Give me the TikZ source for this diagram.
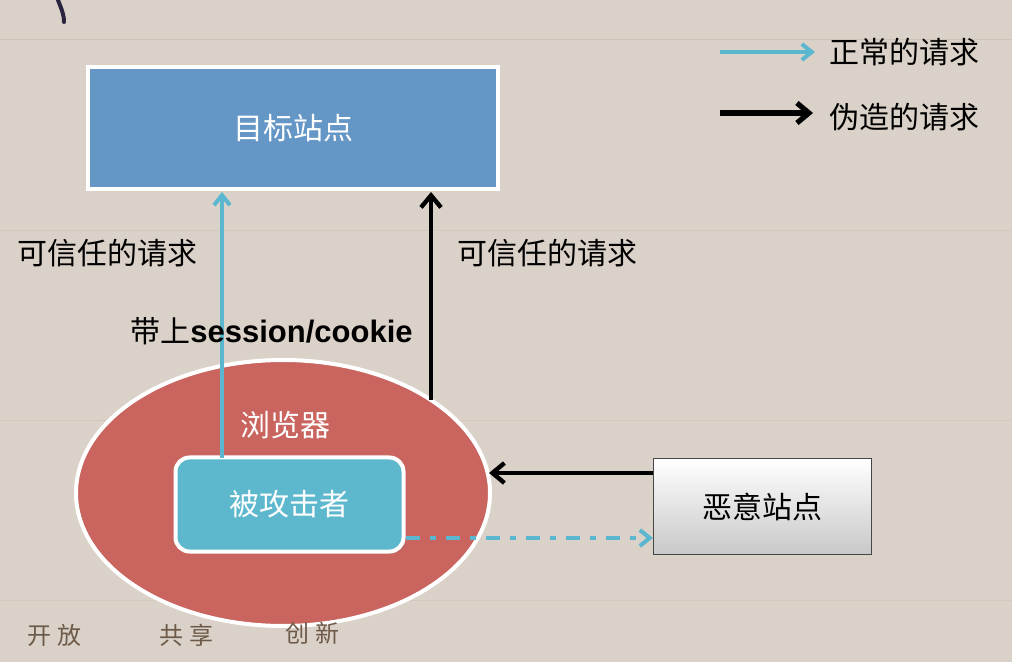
\documentclass[tikz,border=0pt]{standalone}
\usepackage{fontspec}
\setmainfont{Noto Sans CJK SC}
\newfontfamily\latinbold{Liberation Sans}
\usetikzlibrary{arrows.meta,shapes.geometric,shadows}
\definecolor{paper}{HTML}{DAD2C8}
\definecolor{paperdark}{HTML}{C9BBAA}
\definecolor{tgtblue}{HTML}{6497C6}
\definecolor{vicblue}{HTML}{5DB8CE}
\definecolor{cyanline}{HTML}{5BB7CF}
\definecolor{brred}{HTML}{C9645F}
\definecolor{brownink}{HTML}{6E5A48}
\definecolor{inkstroke}{HTML}{2A2440}
\definecolor{evilborder}{HTML}{464646}
\definecolor{evilbottom}{HTML}{C8C8C8}
\tikzset{
  lbl/.style={font=\fontsize{15}{17}\selectfont, text=black, inner sep=0pt},
  wlbl/.style={font=\fontsize{15}{17}\selectfont, text=white, inner sep=0pt},
  normalarrow/.style={draw=cyanline, line width=2pt, -{Straight Barb[length=5pt,width=8pt]}},
  fakearrow/.style={draw=black, line width=2.2pt, -{Straight Barb[length=6pt,width=10pt]}},
  wmark/.style={font=\fontsize{12}{14}\selectfont, text=brownink, inner sep=0pt},
}
\begin{document}
\begin{tikzpicture}[x=0.5pt,y=-0.5pt]
\fill[paper] (0,0) rectangle (1012,662);
\useasboundingbox (0,0) rectangle (1012,662);
% faint background texture
\draw[paperdark,opacity=0.6,line width=0.5pt] (0,40) -- (1012,40);
\draw[paperdark,opacity=0.4,line width=0.4pt] (0,230) -- (1012,230);
\draw[paperdark,opacity=0.4,line width=0.4pt] (0,420) -- (1012,420);
\draw[paperdark,opacity=0.4,line width=0.4pt] (0,600) -- (1012,600);
\draw[inkstroke,line width=2pt,line cap=round] (58,0) .. controls (61,8) and (64,14) .. (64,22);
% target site
\node[draw=white, line width=2pt, fill=tgtblue, minimum width=205pt, minimum height=61pt, inner sep=0pt, wlbl] (target) at (293,128) {目标站点};
% browser ellipse
\node[ellipse, draw=white, line width=2pt, fill=brred, minimum width=207pt, minimum height=133pt, inner sep=0pt] (browser) at (283,493) {};
\node[wlbl] (blabel) at (285,425) {浏览器};
% victim
\node[draw=white, line width=2pt, fill=vicblue, rounded corners=7pt, minimum width=114pt, minimum height=47pt, inner sep=0pt, wlbl, drop shadow={opacity=0.25,shadow xshift=1pt,shadow yshift=-1pt}] (victim) at (289.5,504.5) {被攻击者};
% malicious site
\node[draw=evilborder, line width=0.8pt, top color=white, bottom color=evilbottom, minimum width=109pt, minimum height=48pt, inner sep=0pt, lbl] (evil) at (762.5,506.5) {恶意站点};
% connectors
\coordinate (vtop) at (222,458);
\coordinate (tbot1) at (222,192);
\draw[normalarrow] (vtop) -- (tbot1);
\coordinate (bedge) at (431,400);
\coordinate (tbot2) at (431,192);
\draw[fakearrow] (bedge) -- (tbot2);
\coordinate (evl) at (653,473);
\coordinate (bright) at (489,473);
\draw[fakearrow] (evl) -- (bright);
\coordinate (vr) at (406,538);
\coordinate (evl2) at (653,538);
\draw[draw=cyanline, line width=2pt, dash pattern=on 7pt off 5pt on 3pt off 5pt, -{Straight Barb[length=5pt,width=8pt]}] (vr) -- (evl2);
% labels
\node[lbl, anchor=west] (l1) at (17,253) {可信任的请求};
\node[lbl, anchor=west] (l2) at (457,253) {可信任的请求};
\node[lbl, anchor=west] (l3) at (130,331) {带上{\latinbold\bfseries\fontsize{15.5}{17}\selectfont session/cookie}};
% legend
\coordinate (lg1a) at (720,52);
\coordinate (lg1b) at (815,52);
\draw[normalarrow] (lg1a) -- (lg1b);
\node[lbl, anchor=west] (lt1) at (829,52) {正常的请求};
\coordinate (lg2a) at (720,113);
\coordinate (lg2b) at (813,113);
\draw[fakearrow, line width=2.6pt] (lg2a) -- (lg2b);
\node[lbl, anchor=west] (lt2) at (829,117) {伪造的请求};
% watermark
\node[wmark] (w1) at (54,635) {开\hspace{3pt}放};
\node[wmark] (w2) at (186,635) {共\hspace{3pt}享};
\node[wmark] (w3) at (312,633) {创\hspace{3pt}新};
\end{tikzpicture}
\end{document}
